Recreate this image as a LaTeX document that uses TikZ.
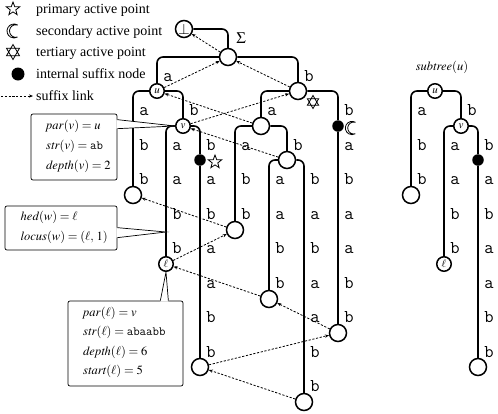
\documentclass[tikz,border=0pt]{standalone}
\usepackage{mathptmx}
\usepackage{fontspec}
\setmainfont{Liberation Serif}
\usetikzlibrary{arrows.meta,shapes.geometric}

\tikzset{
  edge/.style={line width=1.6pt, rounded corners=6pt},
  tnode/.style={circle, draw, line width=1.5pt, fill=white, minimum size=17pt, inner sep=0pt, font=\fontsize{12}{12}\selectfont},
  lnode/.style={tnode, minimum size=14.5pt, font=\fontsize{11}{11}\selectfont},
  sdot/.style={circle, fill=black, minimum size=11.5pt, inner sep=0pt},
  slink/.style={dash pattern=on 2.2pt off 1.6pt, line width=0.8pt, -{Stealth[length=4pt,width=3.2pt]}},
  lab/.style={anchor=base, inner sep=0pt, font=\fontsize{18}{18}\ttfamily},
  leg/.style={anchor=base west, inner sep=0pt, font=\fontsize{14}{14}\selectfont},
  callbox/.style={draw, line width=0.7pt, rounded corners=2pt, fill=white, inner sep=0pt},
  callline/.style={line width=0.7pt},
  calltxt/.style={anchor=base west, inner sep=0pt, font=\fontsize{12.5}{12.5}\selectfont},
  starsym/.style={star, star points=5, star point ratio=2.4, draw, line width=0.8pt, minimum size=14pt, inner sep=0pt},
  moonsym/.pic={\draw[line width=0.8pt] (60:7) arc[start angle=60, end angle=300, radius=7] arc[start angle=-74.2, end angle=-285.8, radius=6.29] -- cycle;},
  davidstar/.pic={\draw[line width=0.8pt] (90:7.5) -- (210:7.5) -- (330:7.5) -- cycle (270:7.5) -- (30:7.5) -- (150:7.5) -- cycle;},
}

\begin{document}
\begin{tikzpicture}[x=1pt,y=1pt,yscale=-1]
\useasboundingbox (0,0) rectangle (498,413);

%Legend
\node[starsym] (kstar) at (13,9) {};
\pic (kmoon) at (14,31) {moonsym};
\pic (kdav) at (13,52) {davidstar};
\node[sdot, minimum size=13pt] (kdot) at (18,74) {};
\coordinate (ks) at (1,96);
\coordinate (ke) at (33,96);
\draw[slink] (ks) -- (ke);
\node[leg] (kt1) at (36,13.5) {primary active point};
\node[leg] (kt2) at (36,35) {secondary active point};
\node[leg] (kt3) at (36,56.5) {tertiary active point};
\node[leg] (kt4) at (36,78) {internal suffix node};
\node[leg] (kt5) at (36,100) {suffix link};

%Tree nodes
\node[tnode, font=\fontsize{15}{15}\selectfont] (bot) at (184,29) {$\bot$};
\node[tnode] (root) at (228,57) {};
\node[font=\fontsize{16}{16}\selectfont] (sig) at (241,38) {$\Sigma$};
\node[lnode] (u) at (157,91) {$u$};
\node[tnode] (nb) at (298,91) {};
\node[lnode] (v) at (183,126) {$v$};
\node[tnode] (nba) at (261,126) {};
\node[sdot] (dbb) at (338,126) {};
\node[sdot] (dabb) at (200,160) {};
\node[tnode] (nbab) at (287,160) {};
\node[tnode] (l4) at (133,195) {};
\node[tnode] (l5) at (235,230) {};
\node[lnode] (ell) at (166,264) {$\ell$};
\node[tnode] (l7) at (269,299) {};
\node[tnode] (l8) at (338,333) {};
\node[tnode] (l9) at (200,367) {};
\node[tnode] (l10) at (304,402) {};

%Active points
\node[starsym] (pst) at (215,162) {};
\pic[scale=0.95] (smoon) at (352,128) {moonsym};
\pic[scale=0.87] (tdav) at (313,102) {davidstar};

%Edges
\draw[edge] (bot) -| (root);
\draw[edge] (root) -| (u);
\draw[edge] (root) -| (nb);
\draw[edge] (u) -| (l4);
\draw[edge] (u) -| (v);
\draw[edge] (v) -| (ell);
\draw[edge] (v) -| (dabb) -- (l9);
\draw[edge] (nb) -| (nba);
\draw[edge] (nb) -| (dbb) -- (l8);
\draw[edge] (nba) -| (l5);
\draw[edge] (nba) -| (nbab);
\draw[edge] (nbab) -| (l7);
\draw[edge] (nbab) -| (l10);

%Subtree of u
\node[font=\fontsize{12.5}{12.5}\selectfont] (sttl) at (442,67) {$\mathit{subtree}(u)$};
\node[lnode] (su) at (435,91) {$u$};
\node[tnode] (sl4) at (411,195) {};
\node[lnode] (sv) at (461,126) {$v$};
\node[lnode] (sell) at (444,264) {$\ell$};
\node[sdot] (sdabb) at (478,160) {};
\node[tnode] (sl9) at (478,367) {};
\draw[edge] (su) -| (sl4);
\draw[edge] (su) -| (sv);
\draw[edge] (sv) -| (sell);
\draw[edge] (sv) -| (sdabb) -- (sl9);

% Edge labels
\foreach \x/\ls in {168/{1/a},309/{1/b},144/{2/a,3/b,4/b},194/{2/b},
    177/{3/a,4/a,5/b,6/b},211/{3/b,4/a,5/b,6/a,7/a,8/b,9/b},272/{2/a},
    349/{2/b,3/a,4/b,5/a,6/a,7/b,8/b},246/{3/a,4/b,5/b},298/{3/b},
    280/{4/a,5/a,6/b,7/b},315/{4/b,5/a,6/b,7/a,8/a,9/b,10/b},
    422/{2/a,3/b,4/b},472/{2/b},455/{3/a,4/a,5/b,6/b},489/{3/b,4/a,5/b,6/a,7/a,8/b,9/b}}
  \foreach \k/\c in \ls
    \node[lab] (t\x-\k) at (\x,{46.75+34.5*\k}) {\c};

%Suffix links
\foreach \s/\t in {root/bot,u/root,nb/root,v/nb,nba/u,nbab/v,l5/l4,ell/l5,l7/ell,l8/l7,l9/l8,l10/l9}
  \draw[slink] (\s) -- (\t);

%Callout of v
\node[callbox, minimum width=86pt, minimum height=66pt] (cbv) at (74,147) {};
\fill[white] ([xshift=-1pt,yshift=6pt]cbv.north east) -- (v.west) -- ([xshift=-1pt,yshift=15pt]cbv.north east) -- cycle;
\draw[callline] ([yshift=6pt]cbv.north east) -- (v.west) -- ([yshift=15pt]cbv.north east);
\node[calltxt] (cv1) at (46,129.5) {$\mathit{par}(v) = u$};
\node[calltxt] (cv2) at (46,149.5) {$\mathit{str}(v) = {}$\texttt{ab}};
\node[calltxt] (cv3) at (46,169.5) {$\mathit{depth}(v) = 2$};

%Callout of w
\coordinate (w) at (166,232);
\node[callbox, minimum width=112pt, minimum height=44pt] (cbw) at (61,228) {};
\fill[white] ([xshift=-1pt,yshift=22pt]cbw.north east) -- (w) -- ([xshift=-1pt,yshift=32pt]cbw.north east) -- cycle;
\draw[callline] ([yshift=22pt]cbw.north east) -- (w) -- ([yshift=32pt]cbw.north east);
\node[calltxt] (cw1) at (20.5,220) {$\mathit{hed}(w) = \ell$};
\node[calltxt] (cw2) at (20.5,240.5) {$\mathit{locus}(w) = (\ell,\, 1)$};

%Callout of l
\node[callbox, minimum width=115pt, minimum height=85pt] (cbl) at (125.5,343.5) {};
\fill[white] ([xshift=-23pt,yshift=1pt]cbl.north east) -- (ell.south) -- ([xshift=-15pt,yshift=1pt]cbl.north east) -- cycle;
\draw[callline] ([xshift=-23pt]cbl.north east) -- (ell.south) -- ([xshift=-15pt]cbl.north east);
\node[calltxt] (cl1) at (83,316) {$\mathit{par}(\ell) = v$};
\node[calltxt] (cl2) at (83,335.5) {$\mathit{str}(\ell) = {}$\texttt{abaabb}};
\node[calltxt] (cl3) at (83,355) {$\mathit{depth}(\ell) = 6$};
\node[calltxt] (cl4) at (83,374.5) {$\mathit{start}(\ell) = 5$};

\end{tikzpicture}
\end{document}
